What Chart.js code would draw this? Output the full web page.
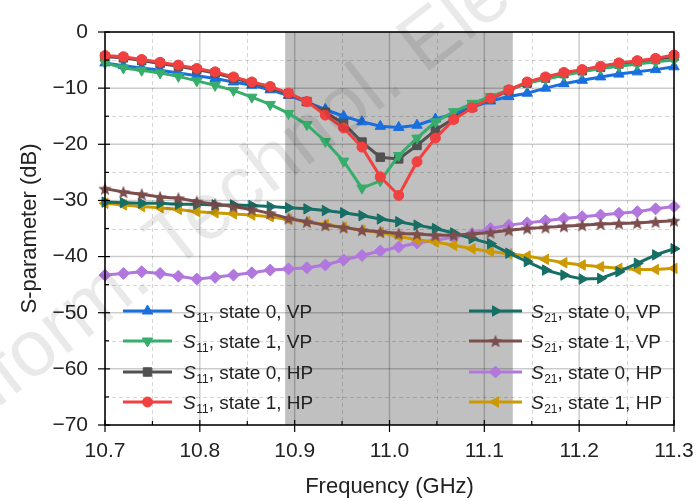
<!DOCTYPE html>
<html>
<head>
<meta charset="utf-8">
<script src="https://cdn.jsdelivr.net/npm/chart.js@4.4.1/dist/chart.umd.min.js"></script>
<style>
  html, body { margin: 0; padding: 0; background: #fff; }
  #wrap { width: 698px; height: 501px; }
</style>
</head>
<body>
<div id="wrap"><canvas id="chart" width="698" height="501"></canvas></div>
<script>
// frequency points (GHz)
const freqs = [10.7000, 10.7194, 10.7387, 10.7581, 10.7774, 10.7968, 10.8161, 10.8355,
  10.8548, 10.8742, 10.8935, 10.9129, 10.9323, 10.9516, 10.9710, 10.9903,
  11.0097, 11.0290, 11.0484, 11.0677, 11.0871, 11.1065, 11.1258, 11.1452,
  11.1645, 11.1839, 11.2032, 11.2226, 11.2419, 11.2613, 11.2806, 11.3000]

// S11 (dB)
const s11State0VP = [-5.5, -6.0, -6.4, -6.8, -7.3, -7.8, -8.3, -8.9, -9.5, -10.3, -11.3, -12.5, -13.8, -15.0, -16.0, -16.8,
  -17.0, -16.6, -15.5, -14.6, -13.4, -12.3, -11.5, -10.9, -10.0, -9.2, -8.6, -8.0, -7.5, -7.1, -6.7, -6.2]
const s11State1VP = [-5.5, -6.4, -6.8, -7.3, -7.9, -8.7, -9.5, -10.4, -11.6, -12.9, -14.5, -16.5, -19.5, -23.0, -27.8, -26.5,
  -22.0, -18.9, -16.0, -14.2, -12.7, -11.5, -10.3, -9.1, -8.4, -7.7, -7.1, -6.5, -6.1, -5.7, -5.3, -5.0]
const s11State0HP = [-4.4, -4.6, -5.1, -5.6, -6.1, -6.7, -7.3, -8.2, -9.1, -9.9, -11.0, -12.4, -14.3, -16.3, -19.6, -22.3,
  -22.6, -20.2, -17.5, -15.4, -13.4, -11.9, -10.4, -9.1, -8.2, -7.4, -6.9, -6.3, -5.7, -5.3, -4.9, -4.4]
const s11State1HP = [-4.2, -4.4, -4.9, -5.4, -5.9, -6.5, -7.1, -8.0, -8.9, -9.7, -10.9, -12.4, -14.8, -17.1, -20.5, -25.8,
  -29.1, -23.1, -18.9, -15.6, -13.5, -11.8, -10.3, -8.9, -8.0, -7.2, -6.7, -6.1, -5.5, -5.1, -4.7, -4.1]

// S21 (dB)
const s21State0VP = [-30.3, -30.4, -30.5, -30.5, -30.7, -30.7, -30.8, -30.8, -30.9, -31.1, -31.3, -31.5, -31.8, -32.2, -32.7, -33.3,
  -33.8, -34.4, -35.0, -35.8, -36.8, -37.7, -39.4, -40.9, -42.4, -43.3, -44.0, -43.9, -42.7, -41.2, -39.7, -38.6]
const s21State1VP = [-27.9, -28.5, -28.9, -29.4, -29.6, -30.2, -30.7, -31.1, -31.6, -32.3, -33.2, -33.8, -34.4, -34.8, -35.3, -35.6,
  -35.9, -36.0, -36.2, -36.2, -36.0, -35.7, -35.3, -35.0, -34.8, -34.6, -34.4, -34.2, -34.1, -34.0, -33.8, -33.6]
const s21State0HP = [-43.3, -43.0, -42.7, -43.0, -43.5, -44.0, -43.7, -43.3, -42.9, -42.4, -42.2, -42.0, -41.5, -40.6, -39.8, -39.0,
  -38.3, -37.6, -37.1, -36.5, -35.9, -35.0, -34.4, -34.0, -33.6, -33.2, -32.9, -32.6, -32.3, -32.0, -31.5, -31.1]
const s21State1HP = [-30.5, -30.8, -31.1, -31.3, -31.6, -32.0, -32.2, -32.4, -32.6, -32.9, -33.4, -33.8, -34.3, -34.8, -35.3, -35.7,
  -36.4, -37.0, -37.4, -38.0, -38.6, -39.1, -39.5, -39.9, -40.5, -41.1, -41.5, -41.8, -42.1, -42.3, -42.3, -42.1]

const xTicks = [10.7, 10.8, 10.9, 11.0, 11.1, 11.2, 11.3]
const yTicks = [0, -10, -20, -30, -40, -50, -60, -70]
const bandRange = [10.89, 11.13]

const FONT = '"Liberation Sans", Arial, sans-serif'

function makeStar (color, r) {
  const c = document.createElement('canvas')
  const size = Math.ceil(r * 2 + 2)
  c.width = c.height = size
  const g = c.getContext('2d')
  g.translate(size / 2, size / 2 + r * 0.1)
  g.beginPath()
  for (let i = 0; i < 10; i++) {
    const rr = i % 2 ? r * 0.45 : r
    const a = -Math.PI / 2 + i * Math.PI / 5
    g.lineTo(rr * Math.cos(a), rr * Math.sin(a))
  }
  g.closePath()
  g.fillStyle = color
  g.fill()
  return c
}

function series (data, color, style, rotation, radius, order, sub, label) {
  return {
    label: label,
    sub: sub,
    data: data.map((y, i) => ({ x: freqs[i], y: y })),
    borderColor: color,
    backgroundColor: color,
    borderWidth: 3,
    pointStyle: style,
    pointRotation: rotation,
    pointRadius: radius,
    pointBorderWidth: 1,
    pointBackgroundColor: color,
    pointBorderColor: color,
    tension: 0,
    clip: false,
    order: order
  }
}

// legend order: left column S11, right column S21
const datasets = [
  series(s11State0VP, '#1a6fdf', 'triangle', 0, 6, 4, '11', ', state 0, VP'),
  series(s11State1VP, '#37ad6b', 'triangle', 180, 6, 2, '11', ', state 1, VP'),
  series(s11State0HP, '#515151', 'rect', 0, 6, 3, '11', ', state 0, HP'),
  series(s11State1HP, '#f14040', 'circle', 0, 5, 1, '11', ', state 1, HP'),
  series(s21State0VP, '#176e64', 'triangle', 90, 6, 6, '21', ', state 0, VP'),
  series(s21State1VP, '#7d4e4e', makeStar('#7d4e4e', 7), 0, 6, 5, '21', ', state 1, VP'),
  series(s21State0HP, '#b177de', 'rectRot', 0, 6, 8, '21', ', state 0, HP'),
  series(s21State1HP, '#cc9900', 'triangle', -90, 6, 7, '21', ', state 1, HP')
]

const decorPlugin = {
  id: 'decor',
  beforeDraw (chart) {
    const { ctx, chartArea: a, scales: { x } } = chart
    ctx.save()
    ctx.fillStyle = '#fff'
    ctx.fillRect(0, 0, chart.width, chart.height)
    ctx.fillStyle = '#c0c0c0'
    const x0 = x.getPixelForValue(bandRange[0])
    const x1 = x.getPixelForValue(bandRange[1])
    ctx.fillRect(x0, a.top, x1 - x0, a.bottom - a.top)
    ctx.restore()
  },
  beforeDatasetsDraw (chart) {
    const { ctx, chartArea: a, scales: { x, y } } = chart
    ctx.save()
    ctx.lineWidth = 1
    // minor dashed grid
    ctx.strokeStyle = 'rgba(0,0,0,0.16)'
    ctx.setLineDash([4, 3])
    for (let i = 0; i < xTicks.length - 1; i++) {
      const px = Math.round(x.getPixelForValue((xTicks[i] + xTicks[i + 1]) / 2)) + 0.5
      ctx.beginPath(); ctx.moveTo(px, a.top); ctx.lineTo(px, a.bottom); ctx.stroke()
    }
    for (let i = 0; i < yTicks.length - 1; i++) {
      const py = Math.round(y.getPixelForValue((yTicks[i] + yTicks[i + 1]) / 2)) + 0.5
      ctx.beginPath(); ctx.moveTo(a.left, py); ctx.lineTo(a.right, py); ctx.stroke()
    }
    // major solid grid
    ctx.setLineDash([])
    ctx.strokeStyle = 'rgba(0,0,0,0.2)'
    ctx.lineWidth = 1.5
    xTicks.forEach(v => {
      const px = x.getPixelForValue(v)
      ctx.beginPath(); ctx.moveTo(px, a.top); ctx.lineTo(px, a.bottom); ctx.stroke()
    })
    yTicks.forEach(v => {
      const py = y.getPixelForValue(v)
      ctx.beginPath(); ctx.moveTo(a.left, py); ctx.lineTo(a.right, py); ctx.stroke()
    })
    ctx.restore()
  },
  afterDatasetsDraw (chart) {
    const { ctx, chartArea: a, scales: { x, y } } = chart
    ctx.save()
    ctx.strokeStyle = '#000'
    ctx.lineWidth = 1.5
    ctx.strokeRect(a.left, a.top, a.right - a.left, a.bottom - a.top)
    ctx.lineWidth = 1.2
    xTicks.forEach((v, i) => {
      const px = x.getPixelForValue(v)
      ctx.beginPath(); ctx.moveTo(px, a.bottom + 7); ctx.lineTo(px, a.bottom - 5); ctx.stroke()
      if (i < xTicks.length - 1) {
        const pm = x.getPixelForValue((v + xTicks[i + 1]) / 2)
        ctx.beginPath(); ctx.moveTo(pm, a.bottom); ctx.lineTo(pm, a.bottom - 4); ctx.stroke()
      }
    })
    yTicks.forEach((v, i) => {
      const py = y.getPixelForValue(v)
      ctx.beginPath(); ctx.moveTo(a.left - 7, py); ctx.lineTo(a.left + 5, py); ctx.stroke()
      if (i < yTicks.length - 1) {
        const pm = y.getPixelForValue((v + yTicks[i + 1]) / 2)
        ctx.beginPath(); ctx.moveTo(a.left, pm); ctx.lineTo(a.left + 4, pm); ctx.stroke()
      }
    })
    ctx.restore()
  },
  afterDraw (chart) {
    const { ctx } = chart
    const drawPoint = Chart.helpers && Chart.helpers.drawPoint
    const cols = [{ x0: 123, x1: 172, tx: 183 }, { x0: 469, x1: 522, tx: 531 }]
    const rows = [311, 341, 372, 402]
    ctx.save()
    chart.data.datasets.forEach((ds, i) => {
      const col = cols[Math.floor(i / 4)]
      const yy = rows[i % 4]
      ctx.strokeStyle = ds.borderColor
      ctx.fillStyle = ds.borderColor
      ctx.lineWidth = 3
      ctx.beginPath(); ctx.moveTo(col.x0, yy); ctx.lineTo(col.x1, yy); ctx.stroke()
      ctx.lineWidth = 1
      if (drawPoint) {
        drawPoint(ctx, { pointStyle: ds.pointStyle, rotation: ds.pointRotation, radius: ds.pointRadius, borderWidth: 1 }, (col.x0 + col.x1) / 2, yy)
      }
      ctx.fillStyle = '#222'
      ctx.textBaseline = 'alphabetic'
      ctx.textAlign = 'left'
      const base = yy + 7
      let tx = col.tx
      ctx.font = 'italic 19px ' + FONT
      ctx.fillText('S', tx, base)
      tx += ctx.measureText('S').width + 0.5
      ctx.font = '12px ' + FONT
      ctx.fillText(ds.sub, tx, base + 4)
      tx += ctx.measureText(ds.sub).width
      ctx.font = '19px ' + FONT
      ctx.fillText(ds.label, tx, base)
    })
    ctx.restore()

    // faint watermark across the plot
    ctx.save()
    ctx.translate(172, 272)
    ctx.rotate(-38 * Math.PI / 180)
    ctx.font = '80px ' + FONT
    ctx.fillStyle = 'rgba(0,0,0,0.085)'
    const pre = 'Front. Inform. '
    ctx.fillText(pre + 'Technol. Electron. Eng.', -ctx.measureText(pre).width, 0)
    ctx.restore()
  }
}

new Chart(document.getElementById('chart'), {
  type: 'line',
  data: { datasets: datasets },
  options: {
    responsive: false,
    animation: false,
    devicePixelRatio: 1,
    layout: { padding: { top: 32, right: 24, left: 0, bottom: 0 } },
    plugins: { legend: { display: false }, tooltip: { enabled: false } },
    scales: {
      x: {
        type: 'linear',
        min: 10.7,
        max: 11.3,
        afterBuildTicks: scale => { scale.ticks = xTicks.map(v => ({ value: v })) },
        afterFit: scale => {
          scale.height = 76
          scale.paddingLeft = 0
          scale.paddingRight = 0
        },
        grid: { display: false, drawTicks: false },
        border: { display: false },
        ticks: {
          color: '#222',
          padding: 14,
          maxRotation: 0,
          font: { size: 21, family: FONT },
          callback: v => v.toFixed(1)
        },
        title: {
          display: true,
          text: 'Frequency (GHz)',
          color: '#222',
          font: { size: 22, family: FONT },
          padding: { top: 1, bottom: 1 }
        }
      },
      y: {
        type: 'linear',
        min: -70,
        max: 0,
        afterBuildTicks: scale => { scale.ticks = yTicks.map(v => ({ value: v })) },
        afterFit: scale => {
          scale.width = 105
          scale.paddingTop = 0
          scale.paddingBottom = 0
        },
        grid: { display: false, drawTicks: false },
        border: { display: false },
        ticks: {
          color: '#222',
          padding: 17,
          font: { size: 21, family: FONT },
          callback: v => v < 0 ? '\u2212' + Math.abs(v) : String(v)
        },
        title: {
          display: true,
          text: 'S-parameter (dB)',
          color: '#222',
          font: { size: 22, family: FONT },
          padding: { top: 17, bottom: 17 }
        }
      }
    }
  },
  plugins: [decorPlugin]
})
</script>
</body>
</html>
